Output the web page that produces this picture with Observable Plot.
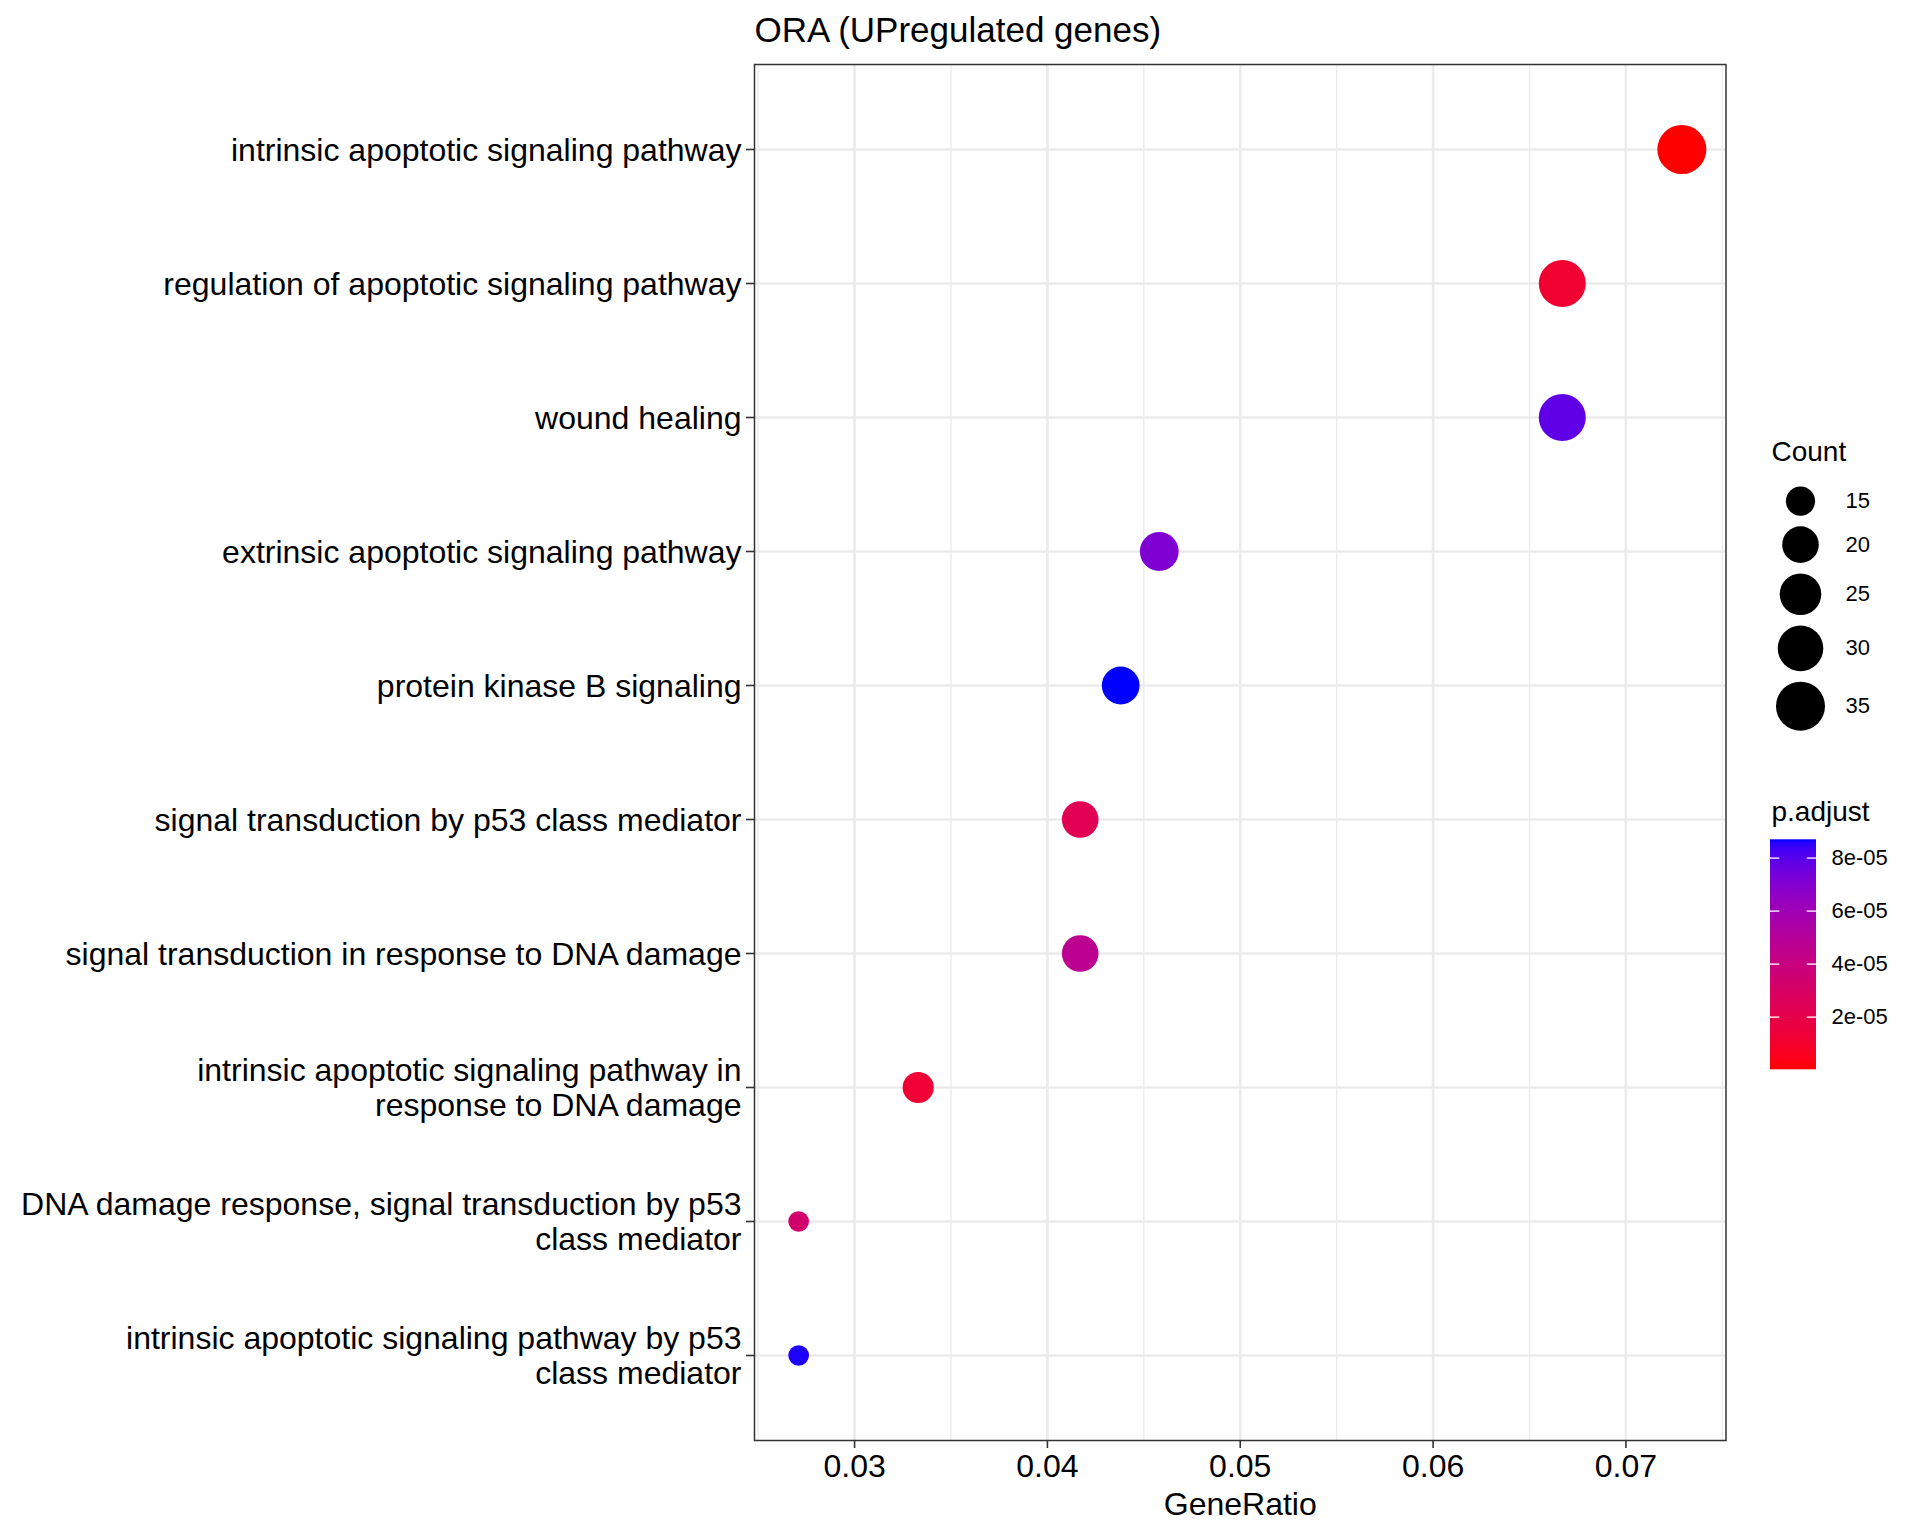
<!DOCTYPE html>
<html>
<head>
<meta charset="utf-8">
<script src="https://cdn.jsdelivr.net/npm/d3@7"></script>
<script src="https://cdn.jsdelivr.net/npm/@observablehq/plot@0.6"></script>
<style>
  html, body { margin: 0; padding: 0; background: white; }
  #wrap { position: relative; width: 1920px; height: 1536px; background: white; }
  #wrap svg { position: absolute; }
</style>
</head>
<body>
<div id="wrap"></div>
<script>
// ---- data ----
const terms = [
  "intrinsic apoptotic signaling pathway",
  "regulation of apoptotic signaling pathway",
  "wound healing",
  "extrinsic apoptotic signaling pathway",
  "protein kinase B signaling",
  "signal transduction by p53 class mediator",
  "signal transduction in response to DNA damage",
  "intrinsic apoptotic signaling pathway in\nresponse to DNA damage",
  "DNA damage response, signal transduction by p53\nclass mediator",
  "intrinsic apoptotic signaling pathway by p53\nclass mediator"
];
const geneRatio = [0.0729, 0.0667, 0.0667, 0.0458, 0.0438, 0.0417, 0.0417, 0.0333, 0.0271, 0.0271];
const counts = [35, 32, 32, 22, 21, 20, 20, 16, 13, 13];
const pAdjust = [1.2e-7, 1.13e-5, 7.83e-5, 7.13e-5, 8.69e-5, 2.35e-5, 4.6e-5, 1.22e-5, 3.3e-5, 8.6e-5];

const xTicks = [0.03, 0.04, 0.05, 0.06, 0.07];
const xMinorTicks = [0.025, 0.035, 0.045, 0.055, 0.065, 0.075];
const sizeBreaks = [15, 20, 25, 30, 35];
const pBreaks = [2e-5, 4e-5, 6e-5, 8e-5];

const titleText = "ORA (UPregulated genes)";
const xLabel = "GeneRatio";

// ---- derived ----
const rows = terms.map((t, i) => ({term: t, ratio: geneRatio[i], count: counts[i], padj: pAdjust[i]}));
const [gMin, gMax] = d3.extent(geneRatio);
const gPad = (gMax - gMin) * 0.05;
const countMin = d3.min(counts), countMax = d3.max(counts);
const pExtent = d3.extent(pAdjust);

const font = "'Liberation Sans', Arial, Helvetica, sans-serif";
const rOpts = {type: "sqrt", domain: [0, countMax - countMin], range: [10.35, 24.5]};
const colorOpts = {type: "linear", domain: pExtent, range: ["red", "blue"], interpolate: "lab"};

const main = Plot.plot({
  width: 1920, height: 1536,
  marginLeft: 754, marginRight: 194.5, marginTop: 64, marginBottom: 96,
  style: {fontFamily: font, fontSize: "32px", color: "black", background: "white"},
  x: {domain: [gMin - gPad, gMax + gPad], label: null},
  y: {type: "point", domain: terms, padding: 0.6, label: null},
  r: rOpts,
  color: colorOpts,
  marks: [
    Plot.gridX({ticks: xMinorTicks, stroke: "#EBEBEB", strokeOpacity: 1, strokeWidth: 1.3}),
    Plot.gridX({ticks: xTicks, stroke: "#EBEBEB", strokeOpacity: 1, strokeWidth: 2.6}),
    Plot.gridY({stroke: "#EBEBEB", strokeOpacity: 1, strokeWidth: 2.6}),
    Plot.dot(rows, {x: "ratio", y: "term", r: d => d.count - countMin, fill: "padj", stroke: null}),
    Plot.frame({stroke: "#333333", strokeWidth: 1.5}),
    Plot.axisX({ticks: xTicks, tickFormat: d3.format(".2f"), tickSize: 8, tickPadding: 6,
      stroke: "#333333", strokeWidth: 1.6, fill: "black", fontSize: 32, label: null}),
    Plot.axisY({tickSize: 8, tickPadding: 5, stroke: "#333333", strokeWidth: 1.6,
      fill: "black", fontSize: 32, lineHeight: 1.1, label: null}),
    Plot.text([titleText], {text: d => d, frameAnchor: "top-left", textAnchor: "start",
      lineAnchor: "bottom", dy: -23, fontSize: 35, fill: "black"}),
    Plot.text([xLabel], {text: d => d, frameAnchor: "bottom", lineAnchor: "bottom",
      dy: 74, fontSize: 32, fill: "black"})
  ]
});
main.style.left = "0px"; main.style.top = "0px";
document.getElementById("wrap").appendChild(main);

// ---- legend ----
const rScale = Plot.scale({r: rOpts});
const cScale = Plot.scale({color: colorOpts});
const keyY = [];
{
  let y = 80.7;
  const gap = 10.5;
  sizeBreaks.forEach((v, i) => {
    if (i > 0) y += rScale.apply(sizeBreaks[i - 1] - countMin) + rScale.apply(v - countMin) + gap;
    keyY.push(y);
  });
}
const barTop = 419.3, barH = 230, barX = 20, barW = 46;
const cbY = d3.scaleLinear().domain(pExtent).range([barTop + barH, barTop]);
const fmtE = v => {
  const [m, e] = v.toExponential(0).split("e");
  return m + "e" + (e[0] === "-" ? "-" : "+") + String(Math.abs(+e)).padStart(2, "0");
};

function colorbarMark() {
  const ns = "http://www.w3.org/2000/svg";
  const g = document.createElementNS(ns, "g");
  const defs = document.createElementNS(ns, "defs");
  const lg = document.createElementNS(ns, "linearGradient");
  lg.setAttribute("id", "cbgrad");
  lg.setAttribute("x1", "0"); lg.setAttribute("y1", "1");
  lg.setAttribute("x2", "0"); lg.setAttribute("y2", "0");
  const n = 60;
  for (let i = 0; i <= n; i++) {
    const s = document.createElementNS(ns, "stop");
    s.setAttribute("offset", i / n);
    s.setAttribute("stop-color", cScale.apply(pExtent[0] + (pExtent[1] - pExtent[0]) * i / n));
    lg.appendChild(s);
  }
  defs.appendChild(lg);
  g.appendChild(defs);
  const rect = document.createElementNS(ns, "rect");
  rect.setAttribute("x", barX); rect.setAttribute("y", barTop);
  rect.setAttribute("width", barW); rect.setAttribute("height", barH);
  rect.setAttribute("fill", "url(#cbgrad)");
  g.appendChild(rect);
  return g;
}

const legend = Plot.plot({
  width: 170, height: 680, margin: 0,
  style: {fontFamily: font, color: "black", background: "transparent", overflow: "visible"},
  x: {type: "identity", axis: null},
  y: {type: "identity", axis: null},
  r: rOpts,
  marks: [
    Plot.text(["Count"], {x: 21, y: 40.7, text: d => d, textAnchor: "start", lineAnchor: "bottom", fontSize: 28, fill: "black"}),
    Plot.dot(sizeBreaks, {x: 50, y: (d, i) => keyY[i], r: d => d - countMin, fill: "black", stroke: null}),
    Plot.text(sizeBreaks, {x: 95, y: (d, i) => keyY[i], text: d => String(d), textAnchor: "start", lineAnchor: "middle", fontSize: 22, fill: "black"}),
    Plot.text(["p.adjust"], {x: 21, y: 400, text: d => d, textAnchor: "start", lineAnchor: "bottom", fontSize: 28, fill: "black"}),
    colorbarMark,
    Plot.ruleY(pBreaks, {y: d => cbY(d), x1: barX, x2: barX + 9.3, stroke: "white", strokeWidth: 1.3}),
    Plot.ruleY(pBreaks, {y: d => cbY(d), x1: barX + barW - 9.3, x2: barX + barW, stroke: "white", strokeWidth: 1.3}),
    Plot.text(pBreaks, {x: 81, y: d => cbY(d), text: fmtE, textAnchor: "start", lineAnchor: "middle", fontSize: 22, fill: "black"})
  ]
});
legend.style.left = "1750px"; legend.style.top = "420px";
document.getElementById("wrap").appendChild(legend);
</script>
</body>
</html>
